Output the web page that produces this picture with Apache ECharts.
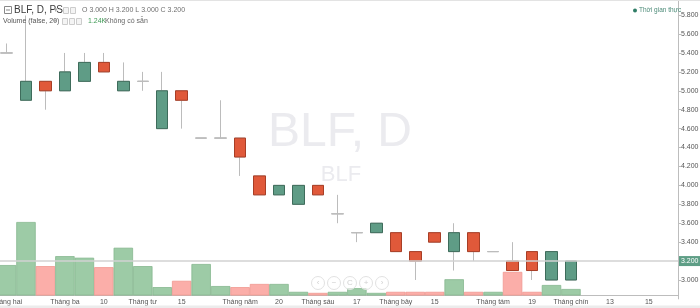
<!DOCTYPE html>
<html>
<head>
<meta charset="utf-8">
<script src="https://cdn.jsdelivr.net/npm/echarts@6/dist/echarts.min.js"></script>
<style>
html,body{margin:0;padding:0;background:#fff;}
#c{width:700px;height:308px;}
</style>
</head>
<body>
<div id="c"></div>
<script>
// ---- data ----
const categories = ['Tháng hai','','','Tháng ba','','10','','Tháng tư','','15','','','Tháng năm','','20','','Tháng sáu','','17','','Tháng bảy','','15','','','Tháng tám','','19','','Tháng chín','','13','','15',''];
const opens  = [5.4, 4.9, 5.1, 5.0, 5.1, 5.3, 5.0, 5.1, 4.6, 5.0, 4.5, 4.5, 4.5, 4.1, 3.9, 3.8, 4.0, 3.7, 3.5, 3.5, 3.5, 3.3, 3.5, 3.3, 3.5, 3.3, 3.2, 3.3, 3.0, 3.0];
const closes = [5.4, 5.1, 5.0, 5.2, 5.3, 5.2, 5.1, 5.1, 5.0, 4.9, 4.5, 4.5, 4.3, 3.9, 4.0, 4.0, 3.9, 3.7, 3.5, 3.6, 3.3, 3.2, 3.4, 3.5, 3.3, 3.3, 3.1, 3.1, 3.3, 3.2];
const highs  = [5.5, 5.8, 5.1, 5.4, 5.4, 5.4, 5.3, 5.2, 5.2, 5.0, 4.5, 4.9, 4.5, 4.1, 4.0, 4.0, 4.0, 3.9, 3.5, 3.6, 3.5, 3.3, 3.5, 3.6, 3.5, 3.3, 3.4, 3.3, 3.3, 3.2];
const lows   = [5.4, 4.9, 4.8, 5.0, 5.1, 5.2, 5.0, 5.0, 4.6, 4.6, 4.5, 4.5, 4.1, 3.9, 3.9, 3.8, 3.9, 3.6, 3.4, 3.5, 3.3, 3.0, 3.4, 3.1, 3.2, 3.3, 3.1, 3.0, 3.0, 3.0];
const volumes = [5800, 14000, 5600, 7500, 7200, 5400, 9100, 5600, 1600, 2800, 6000, 1800, 1600, 2200, 2200, 700, 500, 700, 1400, 500, 700, 700, 700, 3100, 700, 700, 4500, 700, 2000, 1240];
const navSymbols = ['‹', '−', 'C', '+', '›'];

// ---- styles ----
const FONT = '"Liberation Sans", Arial, sans-serif';
const UP = '#5f9c86', UP_B = '#3e6c5b';
const DN = '#e0593a', DN_B = '#a83e26';
const WICK = '#bcbcbc';
const VOL_UP = 'rgba(140,194,150,0.85)', VOL_UP_B = '#86b88f';
const VOL_DN = 'rgba(250,160,154,0.85)', VOL_DN_B = '#f09890';

const wickData = opens.map((o, i) => [o, closes[i], lows[i], highs[i]]);
const bodyData = opens.map((o, i) => [o, closes[i], Math.min(o, closes[i]), Math.max(o, closes[i])]);
const volData = volumes.map((v, i) => ({
  value: v,
  itemStyle: closes[i] >= opens[i] ? {color: VOL_UP, borderColor: VOL_UP_B} : {color: VOL_DN, borderColor: VOL_DN_B}
}));
const n = opens.length - 1;
const f3 = v => v.toFixed(3);
const lastVol = (volumes[n] / 1000).toFixed(2) + 'K';

const chart = echarts.init(document.getElementById('c'), null, {renderer: 'canvas'});

const navGraphics = [];
navSymbols.forEach((s, i) => {
  const cx = 318 + i * 16;
  navGraphics.push({type: 'circle', shape: {cx: cx, cy: 283, r: 6.5}, style: {fill: 'rgba(255,255,255,0.6)', stroke: '#e2e2e2', lineWidth: 1}, z: 50, silent: true});
  navGraphics.push({type: 'text', x: cx, y: 283, style: {text: s, font: '8px ' + FONT, fill: '#d0d0d0', align: 'center', verticalAlign: 'middle'}, z: 51, silent: true});
});

const option = {
  animation: false,
  backgroundColor: '#ffffff',
  grid: [
    {left: -3.2, right: 22, top: -3.8, height: 302.7, containLabel: false, outerBoundsMode: 'none'},
    {left: -3.2, right: 22, bottom: 12.5, height: 105, containLabel: false, outerBoundsMode: 'none'}
  ],
  xAxis: [
    {type: 'category', gridIndex: 0, data: categories, show: false, boundaryGap: true},
    {type: 'category', gridIndex: 1, data: categories, boundaryGap: true,
      axisLine: {show: true, lineStyle: {color: '#bdbdbd', width: 1}},
      axisTick: {show: false},
      axisLabel: {interval: 0, fontSize: 7, color: '#555', fontFamily: FONT, margin: 3},
      splitLine: {show: false}}
  ],
  yAxis: [
    {type: 'value', gridIndex: 0, position: 'right', min: 2.8, max: 6.0, interval: 0.2,
      axisLine: {show: true, lineStyle: {color: '#bdbdbd', width: 1}},
      axisTick: {show: true, length: 3, lineStyle: {color: '#bdbdbd'}},
      axisLabel: {fontSize: 7, color: '#555', fontFamily: FONT, margin: 3, formatter: v => f3(v), showMinLabel: false, showMaxLabel: false},
      splitLine: {show: false}},
    {type: 'value', gridIndex: 1, min: 0, max: 20000, show: false, splitLine: {show: false}}
  ],
  series: [
    {type: 'bar', xAxisIndex: 1, yAxisIndex: 1, data: volData, barWidth: '100%', barCategoryGap: 0, z: 1,
      itemStyle: {borderWidth: 0.8}, silent: true},
    {type: 'candlestick', xAxisIndex: 0, yAxisIndex: 0, data: wickData, barWidth: 12, z: 3,
      itemStyle: {color: 'rgba(0,0,0,0)', color0: 'rgba(0,0,0,0)', borderColor: WICK, borderColor0: WICK, borderColorDoji: WICK, borderWidth: 1},
      silent: true},
    {type: 'candlestick', xAxisIndex: 0, yAxisIndex: 0, data: bodyData, barWidth: 12, z: 4,
      itemStyle: {color: UP, color0: DN, borderColor: UP_B, borderColor0: DN_B, borderColorDoji: WICK, borderWidth: 1},
      silent: true,
      markLine: {
        silent: true, symbol: ['none', 'none'], animation: false,
        lineStyle: {color: '#d2d2d2', width: 1.5, type: 'solid'},
        label: {show: true, position: 'end', distance: 1, formatter: f3(closes[n]), backgroundColor: '#5e9e86', color: '#fff', fontSize: 7, fontFamily: FONT, padding: [2, 2, 1, 2]},
        data: [{yAxis: closes[n]}]
      }}
  ],
  graphic: [
    // watermark
    {type: 'text', x: 340, y: 133, z: -1, silent: true, style: {text: 'BLF, D', font: '48px ' + FONT, fill: '#ebebef', align: 'center', verticalAlign: 'middle'}},
    {type: 'text', x: 341, y: 175, z: -1, silent: true, style: {text: 'BLF', font: '22px ' + FONT, fill: '#ebebef', align: 'center', verticalAlign: 'middle'}},
    // top border
    {type: 'line', shape: {x1: 0, y1: 0.5, x2: 700, y2: 0.5}, style: {stroke: '#e3e3e3', lineWidth: 1}, z: 60, silent: true},
    // header line 1
    {type: 'rect', shape: {x: 4.5, y: 6.5, width: 7, height: 7}, style: {fill: '#fff', stroke: '#888', lineWidth: 1}, z: 60, silent: true},
    {type: 'line', shape: {x1: 6, y1: 10, x2: 10, y2: 10}, style: {stroke: '#888', lineWidth: 1}, z: 61, silent: true},
    {type: 'text', x: 14, y: 10.5, z: 60, silent: true, style: {text: 'BLF, D, PS', font: '10px ' + FONT, fill: '#3a3a3a', verticalAlign: 'middle', backgroundColor: 'rgba(255,255,255,0.85)'}},
    {type: 'text', x: 54, y: 10.5, z: 60, silent: true, style: {text: '▾', font: '7px ' + FONT, fill: '#aaa', verticalAlign: 'middle'}},
    {type: 'rect', shape: {x: 63.5, y: 7.5, width: 5, height: 6}, style: {fill: '#f4f4f4', stroke: '#ccc', lineWidth: 1}, z: 60, silent: true},
    {type: 'rect', shape: {x: 70.5, y: 7.5, width: 5, height: 6}, style: {fill: '#f4f4f4', stroke: '#ccc', lineWidth: 1}, z: 60, silent: true},
    {type: 'text', x: 82, y: 10.5, z: 60, silent: true, style: {text: 'O ' + f3(opens[n]) + ' H ' + f3(highs[n]) + ' L ' + f3(lows[n]) + ' C ' + f3(closes[n]), font: '7px ' + FONT, fill: '#6f6f6f', verticalAlign: 'middle'}},
    // header line 2
    {type: 'text', x: 3, y: 21.5, z: 60, silent: true, style: {text: 'Volume (false, 20)', font: '7px ' + FONT, fill: '#555', verticalAlign: 'middle'}},
    {type: 'text', x: 53, y: 21.5, z: 60, silent: true, style: {text: '▾', font: '7px ' + FONT, fill: '#aaa', verticalAlign: 'middle'}},
    {type: 'rect', shape: {x: 62.5, y: 18.5, width: 5, height: 6}, style: {fill: '#f4f4f4', stroke: '#ccc', lineWidth: 1}, z: 60, silent: true},
    {type: 'rect', shape: {x: 69.5, y: 18.5, width: 5, height: 6}, style: {fill: '#f4f4f4', stroke: '#ccc', lineWidth: 1}, z: 60, silent: true},
    {type: 'rect', shape: {x: 76.5, y: 18.5, width: 5, height: 6}, style: {fill: '#f4f4f4', stroke: '#ccc', lineWidth: 1}, z: 60, silent: true},
    {type: 'text', x: 88, y: 21.5, z: 60, silent: true, style: {text: lastVol, font: '7px ' + FONT, fill: '#3f9a55', verticalAlign: 'middle'}},
    {type: 'text', x: 105, y: 21.5, z: 60, silent: true, style: {text: 'Không có sẵn', font: '7px ' + FONT, fill: '#666', verticalAlign: 'middle'}},
    // realtime label
    {type: 'circle', shape: {cx: 635, cy: 10.5, r: 2}, style: {fill: '#2f7d66'}, z: 60, silent: true},
    {type: 'text', x: 639, y: 10.5, z: 60, silent: true, style: {text: 'Thời gian thực', font: '6.5px ' + FONT, fill: '#4b8a77', verticalAlign: 'middle'}},
    // bottom strip
    {type: 'rect', shape: {x: 0, y: 305.5, width: 700, height: 3}, style: {fill: '#ececec'}, z: 60, silent: true}
  ].concat(navGraphics)
};
chart.setOption(option);
</script>
</body>
</html>
